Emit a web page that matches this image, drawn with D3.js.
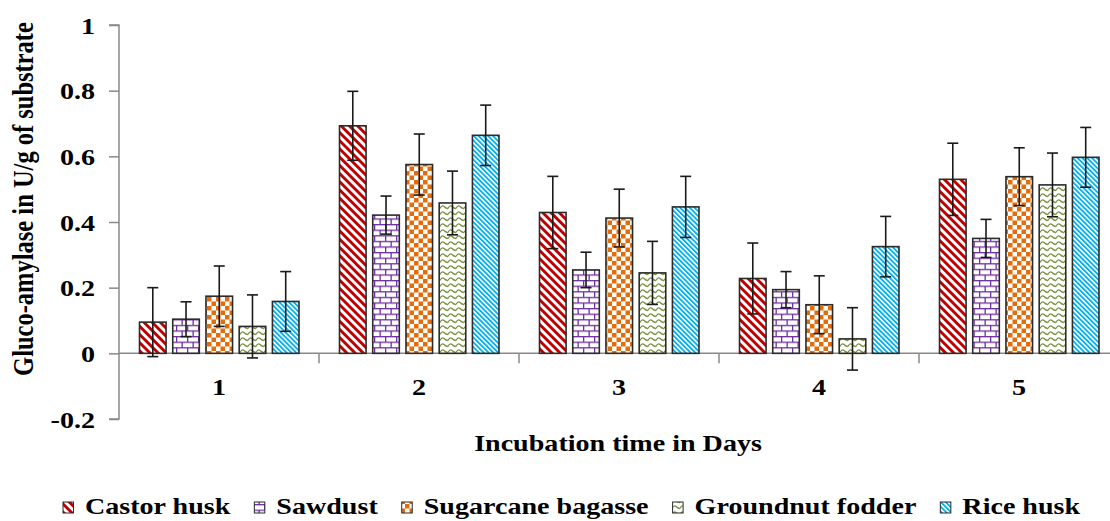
<!DOCTYPE html>
<html>
<head>
<meta charset="utf-8">
<script src="https://cdn.jsdelivr.net/npm/d3@7"></script>
<style>
  html, body { margin: 0; padding: 0; background: #fff; }
  svg { display: block; }
  text { font-family: "Liberation Serif", "Times New Roman", serif; font-weight: bold; fill: #000; }
</style>
</head>
<body>
<svg id="chart" width="1110" height="521"></svg>
<script>
const days = ["1", "2", "3", "4", "5"];
const seriesNames = ["Castor husk", "Sawdust", "Sugarcane bagasse", "Groundnut fodder", "Rice husk"];
const castorHusk      = [0.095, 0.693, 0.429, 0.228, 0.530];
const sawdust         = [0.104, 0.421, 0.254, 0.194, 0.350];
const sugarcane       = [0.174, 0.575, 0.412, 0.148, 0.538];
const groundnut       = [0.082, 0.458, 0.245, 0.044, 0.513];
const riceHusk        = [0.158, 0.664, 0.446, 0.325, 0.597];
const castorErr       = [0.105, 0.105, 0.110, 0.108, 0.110];
const sawdustErr      = [0.053, 0.058, 0.054, 0.055, 0.058];
const sugarcaneErr    = [0.092, 0.093, 0.088, 0.088, 0.088];
const groundnutErr    = [0.096, 0.097, 0.096, 0.095, 0.097];
const riceErr         = [0.091, 0.092, 0.093, 0.092, 0.091];
const yTicks = [-0.2, 0, 0.2, 0.4, 0.6, 0.8, 1];
const xTitle = "Incubation time in Days";
const yTitle = "Gluco-amylase in U/g of substrate";

const values = [castorHusk, sawdust, sugarcane, groundnut, riceHusk];
const errors = [castorErr, sawdustErr, sugarcaneErr, groundnutErr, riceErr];
const patternIds = ["pCastor", "pSaw", "pSugar", "pGround", "pRice"];

const FS = 24;       // font size
const SX = 1.17;     // horizontal stretch of the lettering in the reference

const svg = d3.select("#chart");
const defs = svg.append("defs");

// Castor: wide red diagonal stripes
const p1 = defs.append("pattern").attr("id", "pCastor").attr("patternUnits", "userSpaceOnUse")
  .attr("width", 5.8).attr("height", 10).attr("patternTransform", "rotate(-45)");
p1.append("rect").attr("width", 5.8).attr("height", 10).attr("fill", "#fff");
p1.append("rect").attr("width", 2.9).attr("height", 10).attr("fill", "#c00000");

// Sawdust: purple bricks
const bw = 11, bh = 5.6;
const p2 = defs.append("pattern").attr("id", "pSaw").attr("patternUnits", "userSpaceOnUse")
  .attr("width", bw).attr("height", bh * 2);
p2.append("rect").attr("width", bw).attr("height", bh * 2).attr("fill", "#fff");
p2.append("rect").attr("x", 0).attr("y", 0).attr("width", bw).attr("height", 1.3).attr("fill", "#7030a0");
p2.append("rect").attr("x", 0).attr("y", bh).attr("width", bw).attr("height", 1.3).attr("fill", "#7030a0");
p2.append("rect").attr("x", 0).attr("y", 0).attr("width", 1.3).attr("height", bh).attr("fill", "#7030a0");
p2.append("rect").attr("x", bw / 2).attr("y", bh).attr("width", 1.3).attr("height", bh).attr("fill", "#7030a0");

// Sugarcane: orange checkerboard
const cs = 4.5;
const p3 = defs.append("pattern").attr("id", "pSugar").attr("patternUnits", "userSpaceOnUse")
  .attr("width", cs * 2).attr("height", cs * 2);
p3.append("rect").attr("width", cs * 2).attr("height", cs * 2).attr("fill", "#fff");
p3.append("rect").attr("width", cs).attr("height", cs).attr("fill", "#e46c0a");
p3.append("rect").attr("x", cs).attr("y", cs).attr("width", cs).attr("height", cs).attr("fill", "#e46c0a");

// Groundnut: green waves
const p4 = defs.append("pattern").attr("id", "pGround").attr("patternUnits", "userSpaceOnUse")
  .attr("width", 8).attr("height", 6);
p4.append("rect").attr("width", 8).attr("height", 6).attr("fill", "#fff");
p4.append("path").attr("d", "M0,4.5 Q2,0.5 4,2.5 T8,4.5").attr("fill", "none")
  .attr("stroke", "#77933c").attr("stroke-width", 1.3);

// Rice: narrow blue diagonal stripes
const p5 = defs.append("pattern").attr("id", "pRice").attr("patternUnits", "userSpaceOnUse")
  .attr("width", 3.4).attr("height", 10).attr("patternTransform", "rotate(-45)");
p5.append("rect").attr("width", 3.4).attr("height", 10).attr("fill", "#fff");
p5.append("rect").attr("width", 1.8).attr("height", 10).attr("fill", "#00b0f0");

// Scales
const x = d3.scaleBand().domain(days).range([119, 1119]).paddingInner(0).paddingOuter(0);
const xs = d3.scaleBand().domain(seriesNames).range([20.5, 180]).paddingInner(0.2).paddingOuter(0);
const y = d3.scaleLinear().domain([-0.2, 1]).range([419, 25]);

// Y axis
const yAxis = d3.axisLeft(y).tickValues(yTicks).tickSize(10).tickPadding(12)
  .tickFormat(d => d === 0 ? "0" : String(d));
const gy = svg.append("g").attr("transform", "translate(119,0)").call(yAxis);
gy.select(".domain").attr("stroke", "#898989").attr("stroke-width", 1.5)
  .attr("d", `M-10,${y(-0.2)}H0V${y(1)}H-10`);
gy.selectAll(".tick line").attr("stroke", "#898989").attr("stroke-width", 1.5);
gy.selectAll(".tick text")
  .attr("font-size", FS).attr("font-family", "Liberation Serif").attr("font-weight", "bold").attr("fill", "#000")
  .attr("x", -24 / SX).attr("dy", "0.34em")
  .attr("transform", `scale(${SX},1)`);

// X axis at zero
svg.append("line").attr("x1", x.range()[0]).attr("x2", x.range()[1])
  .attr("y1", y(0)).attr("y2", y(0)).attr("stroke", "#898989").attr("stroke-width", 1.5);
svg.selectAll(".xtick").data(days.slice(1)).enter().append("line")
  .attr("x1", d => x(d)).attr("x2", d => x(d))
  .attr("y1", y(0)).attr("y2", y(0) + 10).attr("stroke", "#898989").attr("stroke-width", 1.5);
svg.selectAll(".xlabel").data(days).enter().append("text")
  .attr("transform", d => `translate(${x(d) + x.bandwidth() / 2},395) scale(${SX},1)`)
  .attr("text-anchor", "middle").attr("font-size", FS).text(d => d);

// Bars
const flat = [];
seriesNames.forEach((s, si) => days.forEach((d, di) => {
  flat.push({ s, si, d, v: values[si][di], e: errors[si][di] });
}));

const gBars = svg.append("g");
gBars.selectAll("rect").data(flat).enter().append("rect")
  .attr("x", p => x(p.d) + xs(p.s))
  .attr("width", xs.bandwidth())
  .attr("y", p => y(Math.max(0, p.v)))
  .attr("height", p => Math.abs(y(p.v) - y(0)))
  .attr("fill", p => `url(#${patternIds[p.si]})`)
  .attr("stroke", "#2b2b2b").attr("stroke-width", 1.6);

// Error bars
const gErr = svg.append("g").attr("stroke", "#1a1a1a").attr("stroke-width", 1.6);
const cap = 5.5;
flat.forEach(p => {
  const cx = x(p.d) + xs(p.s) + xs.bandwidth() / 2;
  gErr.append("line").attr("x1", cx).attr("x2", cx).attr("y1", y(p.v + p.e)).attr("y2", y(p.v - p.e));
  gErr.append("line").attr("x1", cx - cap).attr("x2", cx + cap).attr("y1", y(p.v + p.e)).attr("y2", y(p.v + p.e));
  gErr.append("line").attr("x1", cx - cap).attr("x2", cx + cap).attr("y1", y(p.v - p.e)).attr("y2", y(p.v - p.e));
});

// Axis titles
svg.append("text").attr("transform", `translate(618,451) scale(${SX},1)`).attr("text-anchor", "middle")
  .attr("font-size", FS).text(xTitle);
svg.append("text").attr("transform", `translate(32.5,199) scale(${SX},1) rotate(-90)`).attr("text-anchor", "middle")
  .attr("font-size", 24.5).text(yTitle);

// Legend
const leg = svg.append("g");
let lx = 63;
seriesNames.forEach((s, si) => {
  leg.append("rect").attr("x", lx).attr("y", 502).attr("width", 10.5).attr("height", 11)
    .attr("fill", `url(#${patternIds[si]})`).attr("stroke", "#2b2b2b").attr("stroke-width", 1);
  const t = leg.append("text").attr("transform", `translate(${lx + 22},514) scale(${SX},1)`)
    .attr("font-size", FS).text(s);
  lx += 22 + t.node().getComputedTextLength() * SX + 24;
});
</script>
</body>
</html>
